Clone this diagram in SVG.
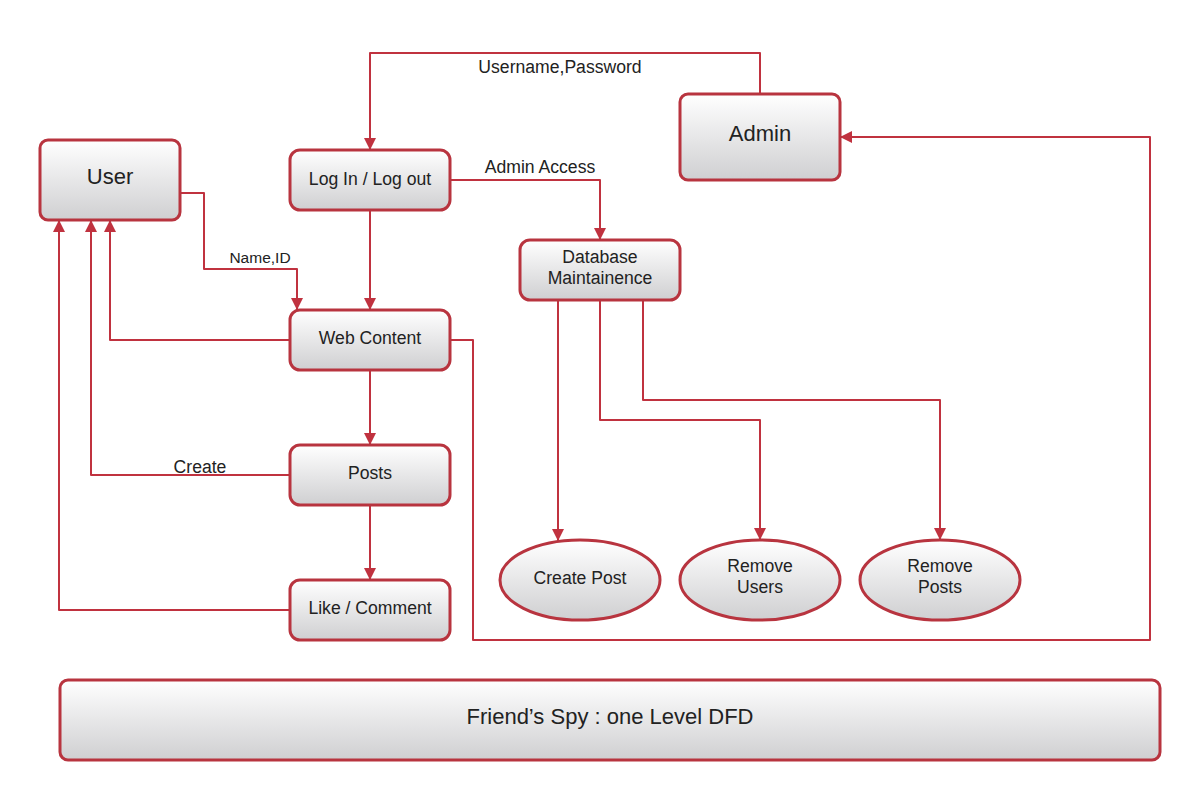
<svg xmlns="http://www.w3.org/2000/svg" width="1200" height="800" viewBox="0 0 1200 800">
<style>
.box{fill:url(#g);stroke:#b8343f;stroke-width:3}
.t{font-family:"Liberation Sans",Arial,sans-serif;fill:#222;text-anchor:middle;font-size:17.6px}
.big{font-size:22px}
.c{fill:none;stroke:#c0323f;stroke-width:2;stroke-linejoin:round}
.lbl{font-family:"Liberation Sans",Arial,sans-serif;fill:#222;font-size:17.6px;text-anchor:middle}
</style>
<defs>
<linearGradient id="g" x1="0" y1="0" x2="0" y2="1">
<stop offset="0" stop-color="#ffffff"/>
<stop offset="1" stop-color="#cfcfd1"/>
</linearGradient>
<marker id="a" viewBox="0 0 12 12" refX="12" refY="6" markerWidth="12" markerHeight="12" markerUnits="userSpaceOnUse" orient="auto">
<path d="M0,0 L12,6 L0,12 z" fill="#c0323f"/>
</marker>
</defs>
<rect width="1200" height="800" fill="#ffffff"/>
<g id="connectors">
<path class="c" marker-end="url(#a)" d="M760,94 V53 H370 V150"/>
<path class="c" marker-end="url(#a)" d="M450,180 H600 V240"/>
<path class="c" marker-end="url(#a)" d="M370,210 V310"/>
<path class="c" marker-end="url(#a)" d="M180,193 H204 V269 H297 V310"/>
<path class="c" marker-end="url(#a)" d="M290,340 H110 V220"/>
<path class="c" marker-end="url(#a)" d="M290,475 H91 V220"/>
<path class="c" marker-end="url(#a)" d="M290,610 H59 V220"/>
<path class="c" marker-end="url(#a)" d="M370,370 V445"/>
<path class="c" marker-end="url(#a)" d="M370,505 V580"/>
<path class="c" marker-end="url(#a)" d="M450,340 H473 V640 H1150 V137 H840"/>
<path class="c" marker-end="url(#a)" d="M558,300 V541"/>
<path class="c" marker-end="url(#a)" d="M600,300 V420 H760 V540"/>
<path class="c" marker-end="url(#a)" d="M643,300 V400 H940 V540"/>
<text class="lbl" x="560" y="73">Username,Password</text>
<text class="lbl" x="540" y="173">Admin Access</text>
<text class="lbl" x="260" y="263" style="font-size:15.5px">Name,ID</text>
<text class="lbl" x="200" y="473">Create</text>
</g>
<g id="user"><rect class="box" x="40" y="140" width="140" height="80" rx="8"/><text class="t big" x="110" y="184">User</text></g>
<g id="login"><rect class="box" x="290" y="150" width="160" height="60" rx="10"/><text class="t" x="370" y="185">Log In / Log out</text></g>
<g id="admin"><rect class="box" x="680" y="94" width="160" height="86" rx="8"/><text class="t big" x="760" y="141">Admin</text></g>
<g id="db"><rect class="box" x="520" y="240" width="160" height="60" rx="10"/><text class="t" x="600" y="263" fill="#000">Database</text><text class="t" x="600" y="284">Maintainence</text></g>
<g id="webcontent"><rect class="box" x="290" y="310" width="160" height="60" rx="10"/><text class="t" x="370" y="344">Web Content</text></g>
<g id="posts"><rect class="box" x="290" y="445" width="160" height="60" rx="10"/><text class="t" x="370" y="479">Posts</text></g>
<g id="likecomment"><rect class="box" x="290" y="580" width="160" height="60" rx="10"/><text class="t" x="370" y="614">Like / Comment</text></g>
<g id="createpost"><ellipse class="box" cx="580" cy="580" rx="80" ry="40"/><text class="t" x="580" y="584">Create Post</text></g>
<g id="removeusers"><ellipse class="box" cx="760" cy="580" rx="80" ry="40"/><text class="t" x="760" y="572">Remove</text><text class="t" x="760" y="593">Users</text></g>
<g id="removeposts"><ellipse class="box" cx="940" cy="580" rx="80" ry="40"/><text class="t" x="940" y="572">Remove</text><text class="t" x="940" y="593">Posts</text></g>
<g id="title"><rect class="box" x="60" y="680" width="1100" height="80" rx="8"/><text class="t big" x="610" y="724">Friend’s Spy : one Level DFD</text></g>
</svg>
